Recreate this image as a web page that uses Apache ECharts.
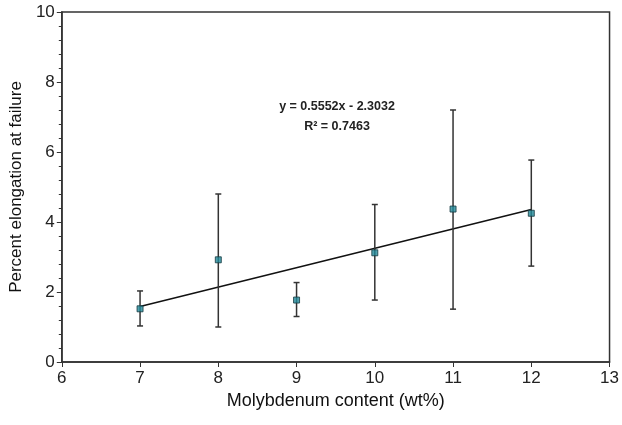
<!DOCTYPE html>
<html>
<head>
<meta charset="utf-8">
<script src="https://cdn.jsdelivr.net/npm/echarts@6/dist/echarts.min.js"></script>
<style>
  html, body { margin: 0; padding: 0; background: #fff; }
  #main { width: 622px; height: 425px; }
</style>
</head>
<body>
<div id="main"></div>
<script>
// molybdenum content (wt%)
const moly = [7, 8, 9, 10, 11, 12]
// mean elongation and error bar limits
const elong = [1.52, 2.92, 1.77, 3.12, 4.37, 4.25]
const errLow = [1.03, 1.0, 1.3, 1.77, 1.51, 2.74]
const errHigh = [2.03, 4.8, 2.27, 4.5, 7.2, 5.77]
// linear fit shown on chart
const slope = 0.5552
const intercept = -2.3032
const r2 = 0.7463
const fitX = [7, 12]

const points = moly.map((x, i) => [x, elong[i]])
const bars = moly.map((x, i) => [x, errLow[i], errHigh[i]])
const fitLine = fitX.map(x => [x, slope * x + intercept])

const chart = echarts.init(document.getElementById('main'))
const font = 'Arial, "Liberation Sans", sans-serif'

const option = {
  animation: false,
  grid: {
    left: 58, right: 12, top: 12, bottom: 63,
    show: true, borderColor: '#333', borderWidth: 1.5
  },
  xAxis: {
    type: 'value', min: 6, max: 13, interval: 1,
    name: 'Molybdenum content (wt%)',
    nameLocation: 'middle', nameGap: 23,
    nameTextStyle: { fontFamily: font, fontSize: 18, color: '#111' },
    axisLine: { lineStyle: { color: '#333', width: 1.5 } },
    axisTick: { length: 5, lineStyle: { color: '#333' } },
    axisLabel: { fontFamily: font, fontSize: 17, color: '#222', margin: 8 },
    splitLine: { show: false }
  },
  yAxis: {
    type: 'value', min: 0, max: 10, interval: 2,
    name: 'Percent elongation at failure',
    nameLocation: 'middle', nameGap: 30,
    nameTextStyle: { fontFamily: font, fontSize: 17, color: '#111' },
    axisLine: { show: true, lineStyle: { color: '#333', width: 1.5 } },
    axisTick: { show: true, length: 5, lineStyle: { color: '#333' } },
    minorTick: { show: true, splitNumber: 5, length: 3, lineStyle: { color: '#333' } },
    axisLabel: { fontFamily: font, fontSize: 17, color: '#222', margin: 7 },
    splitLine: { show: false }
  },
  graphic: [
    {
      type: 'text', x: 337, y: 107,
      style: {
        text: 'y = 0.5552x - 2.3032', font: 'bold 12.5px ' + font, fill: '#222',
        align: 'center', verticalAlign: 'middle'
      }
    },
    {
      type: 'text', x: 337, y: 127,
      style: {
        text: 'R² = ' + r2, font: 'bold 12.5px ' + font, fill: '#222',
        align: 'center', verticalAlign: 'middle'
      }
    }
  ],
  series: [
    {
      type: 'line',
      data: fitLine,
      symbol: 'none',
      lineStyle: { color: '#111', width: 1.5 },
      z: 2
    },
    {
      type: 'custom',
      data: bars,
      renderItem: function (params, api) {
        const x = api.value(0)
        const lo = api.coord([x, api.value(1)])
        const hi = api.coord([x, api.value(2)])
        const w = 3
        const style = { stroke: '#333', lineWidth: 1.5 }
        return {
          type: 'group',
          children: [
            { type: 'line', shape: { x1: lo[0], y1: lo[1], x2: hi[0], y2: hi[1] }, style: style },
            { type: 'line', shape: { x1: lo[0] - w, y1: lo[1], x2: lo[0] + w, y2: lo[1] }, style: style },
            { type: 'line', shape: { x1: hi[0] - w, y1: hi[1], x2: hi[0] + w, y2: hi[1] }, style: style }
          ]
        }
      },
      z: 3
    },
    {
      type: 'scatter',
      data: points,
      symbol: 'rect',
      symbolSize: 6,
      itemStyle: { color: '#22899a', borderColor: '#153a40', borderWidth: 1 },
      z: 4
    }
  ]
}
chart.setOption(option)
</script>
</body>
</html>
